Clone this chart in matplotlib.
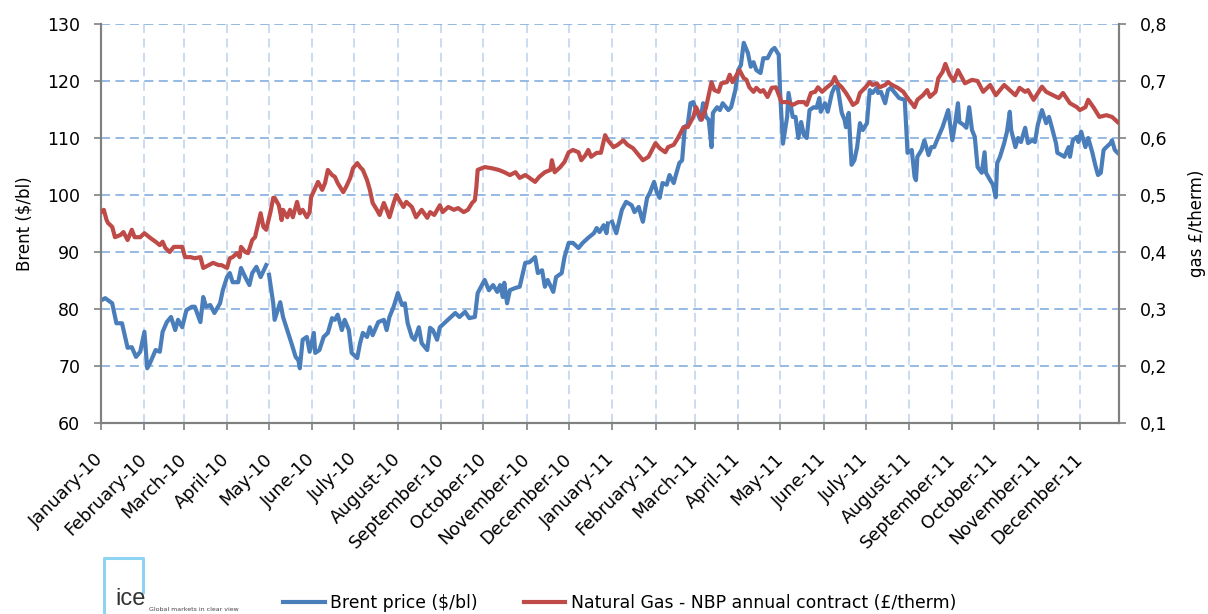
import numpy as np
import pandas as pd
import matplotlib
matplotlib.use("Agg")
import matplotlib.pyplot as plt
import matplotlib.dates as mdates
from matplotlib.lines import Line2D

plt.rcParams['font.family'] = ['DejaVu Sans']

nan = float('nan')

# Brent price ($/bl): days since 2010-01-01 and values
brent_day = [0, 3, 8, 11, 15, 19, 22, 25, 28, 31, 33, 35, 39, 42, 44, 47, 50, 53, 55, 58,
             61, 65, 67, 71, 73, 75, 78, 81, 85, 87, 90, 92, 94, 98, 100, 103, 106, 108, 111, 114,
             118, 119, 120, 123, 124, 128, 130, 133, 136, 139, 141, 142, 144, 147, 149, 152, 153, 156, 159, 162,
             165, 167, 169, 172, 174, 177, 179, 183, 185, 187, 190, 192, 194, 198, 202, 204, 206, 209, 212, 215,
             217, 219, 222, 224, 227, 229, 233, 235, 237, 240, 242, 246, 253, 256, 260, 263, 267, 269, 274, 277,
             280, 283, 285, 287, 288, 290, 292, 296, 299, 303, 306, 310, 312, 315, 317, 319, 323, 325, 329, 331,
             334, 337, 341, 344, 348, 352, 354, 356, 359, 361, 362, 363, 365, 368, 372, 375, 379, 381, 384, 386,
             387, 390, 392, 395, 397, 399, 401, 404, 406, 409, 411, 413, 415, 417, 419, 421, 423, 425, 428, 430,
             432, 434, 436, 437, 440, 442, 444, 448, 450, 453, 455, 457, 459, 462, 464, 466, 468, 471, 473, 476,
             479, 481, 484, 485, 487, 490, 491, 494, 496, 498, 500, 502, 504, 506, 509, 511, 513, 514, 517, 519,
             522, 524, 526, 529, 531, 532, 534, 536, 538, 540, 542, 544, 547, 549, 551, 554, 555, 557, 560, 562,
             564, 567, 570, 574, 576, 579, 581, 582, 583, 586, 588, 591, 593, 595, 598, 601, 605, 608, 610, 612,
             613, 616, 618, 620, 622, 624, 626, 629, 631, 632, 635, 637, 639, 640, 642, 645, 647, 649, 650, 653,
             655, 657, 660, 662, 665, 667, 669, 672, 675, 677, 679, 682, 683, 686, 688, 691, 692, 694, 697, 698,
             700, 703, 705, 708, 710, 712, 714, 716, 718, 721, 722, 724, 726]
brent_price = [81.5, 81.9, 81.0, 77.5, 77.5, 73.2, 73.3, 71.6, 72.5, 76.0, 69.6, 70.5, 72.8, 72.5, 76.0, 77.7, 78.6, 76.3, 78.1, 76.8,
               79.8, 80.4, 80.4, 77.7, 82.1, 80.4, 80.7, 79.3, 81.0, 83.3, 85.6, 86.3, 84.7, 84.7, 87.2, 85.6, 84.2, 86.3, 87.4, 85.6,
               87.7, nan, 86.0, 81.0, 78.1, 81.2, 78.6, 76.3, 74.0, 71.6, 71.0, 69.6, 74.6, 75.1, 72.5, 75.8, 72.3, 72.8, 75.1, 75.8,
               78.4, 78.1, 79.0, 76.3, 78.1, 76.3, 72.3, 71.4, 74.0, 75.8, 75.1, 76.8, 75.4, 77.7, 78.1, 76.3, 78.6, 80.4, 82.8, 80.7,
               81.0, 77.5, 75.1, 74.6, 76.8, 74.0, 72.8, 76.7, 76.3, 74.6, 76.8, 77.7, 79.3, 78.6, 79.5, 78.4, 78.6, 82.8, 85.1, 83.3,
               84.2, 83.0, 84.2, 82.1, 84.6, 81.0, 83.3, 83.7, 83.9, 88.1, 88.2, 89.1, 86.3, 86.8, 83.9, 85.1, 83.0, 85.6, 86.3, 89.1,
               91.6, 91.6, 90.7, 91.6, 92.5, 93.3, 94.2, 93.5, 94.7, 93.3, 95.0, nan, 95.3, 93.3, 97.4, 98.8, 98.2, 97.0, 97.9, 96.1,
               95.3, 99.5, 100.4, 102.3, 100.4, 99.5, 102.1, 101.8, 103.5, 102.1, 103.9, 105.6, 106.1, 112.0, 112.3, 116.1, 116.3, 114.9, 113.2, 116.1,
               113.7, 113.2, 108.4, 114.4, 115.4, 114.9, 116.1, 114.9, 115.4, 118.4, 121.9, 122.8, 126.7, 124.9, 122.5, 123.3, 121.9, 121.4, 124.0, 124.0,
               125.4, 125.8, 124.6, 118.0, 109.0, 113.7, 117.9, 113.7, 113.7, 110.0, 112.8, 110.5, 110.0, 114.9, 115.4, 115.3, 117.0, 114.6, 116.1, 114.6,
               117.9, 119.0, 119.0, 114.4, 113.2, 111.9, 114.4, 105.3, 106.1, 108.4, 112.6, 111.4, 112.6, 118.4, 117.9, 118.8, 117.9, 118.1, 116.1, 118.4,
               118.8, 117.9, 117.0, 116.7, 107.4, 107.9, 103.2, 102.6, 106.7, 107.9, 109.6, 107.0, 108.4, 108.4, 110.2, 111.9, 114.9, 109.6, 112.6, 116.1,
               112.8, 112.3, 111.8, 115.4, 111.4, 110.2, 104.9, 103.9, 107.5, 103.9, 102.6, 101.8, 99.6, 105.6, 106.7, 109.1, 111.1, 114.6, 111.4, 108.4,
               110.0, 109.3, 111.8, 109.1, 109.6, 109.3, 112.3, 114.9, 112.6, 113.7, 111.9, 109.1, 107.4, 107.0, 106.7, 108.4, 106.7, 109.6, 110.2, 109.3,
               111.1, 108.4, 110.0, 107.4, 105.3, 103.5, 103.9, 107.9, 108.4, 109.1, 109.6, 107.9, 107.4]

# Natural Gas - NBP annual contract (£/therm)
gas_day = [0, 2, 4, 5, 8, 10, 14, 16, 19, 22, 24, 28, 31, 35, 39, 42, 44, 46, 49, 52,
           54, 58, 60, 64, 67, 71, 73, 77, 80, 84, 86, 90, 92, 94, 97, 99, 100, 103, 105, 108,
           110, 112, 114, 116, 118, 121, 123, 124, 127, 129, 130, 133, 135, 137, 140, 142, 144, 147, 149, 150,
           153, 155, 158, 160, 162, 165, 167, 169, 173, 175, 178, 180, 183, 185, 187, 190, 192, 194, 197, 199,
           202, 204, 206, 209, 211, 213, 216, 218, 222, 225, 229, 233, 235, 238, 242, 244, 248, 252, 255, 259,
           262, 265, 267, 268, 269, 272, 274, 279, 284, 288, 292, 296, 299, 303, 306, 310, 313, 317, 321, 322,
           324, 328, 331, 334, 337, 341, 343, 346, 348, 350, 354, 357, 360, 362, 366, 369, 373, 376, 380, 384,
           387, 391, 396, 399, 403, 405, 409, 412, 416, 419, 423, 425, 429, 432, 436, 438, 441, 443, 447, 449,
           451, 454, 456, 459, 461, 463, 466, 468, 471, 473, 476, 479, 482, 486, 491, 494, 498, 502, 504, 507,
           510, 512, 515, 518, 522, 524, 526, 529, 532, 535, 537, 540, 542, 546, 549, 551, 554, 556, 560, 562,
           565, 569, 573, 576, 579, 581, 583, 587, 590, 592, 596, 598, 601, 603, 606, 609, 612, 617, 622, 626,
           630, 635, 639, 645, 649, 653, 656, 660, 662, 666, 672, 675, 680, 684, 687, 692, 697, 699, 703, 705,
           709, 713, 718, 722, 726]
gas_price = [0.470, 0.474, 0.456, 0.451, 0.444, 0.426, 0.430, 0.435, 0.421, 0.439, 0.426, 0.426, 0.433, 0.425, 0.418, 0.412, 0.418, 0.407, 0.400, 0.409,
             0.409, 0.409, 0.391, 0.391, 0.389, 0.391, 0.372, 0.377, 0.381, 0.377, 0.377, 0.372, 0.389, 0.391, 0.398, 0.391, 0.409, 0.400, 0.398, 0.421,
             0.426, 0.447, 0.468, 0.444, 0.439, 0.470, 0.495, 0.495, 0.482, 0.456, 0.474, 0.461, 0.474, 0.461, 0.488, 0.468, 0.474, 0.461, 0.470, 0.496,
             0.512, 0.523, 0.509, 0.521, 0.544, 0.535, 0.532, 0.521, 0.505, 0.514, 0.530, 0.547, 0.556, 0.549, 0.544, 0.526, 0.509, 0.486, 0.474, 0.465,
             0.486, 0.474, 0.461, 0.486, 0.500, 0.491, 0.479, 0.488, 0.479, 0.461, 0.474, 0.460, 0.470, 0.465, 0.482, 0.470, 0.479, 0.474, 0.477, 0.470,
             0.474, 0.486, 0.491, 0.512, 0.544, 0.547, 0.549, 0.547, 0.544, 0.540, 0.535, 0.540, 0.530, 0.535, 0.530, 0.523, 0.532, 0.540, 0.544, 0.561,
             0.540, 0.549, 0.558, 0.575, 0.579, 0.575, 0.561, 0.570, 0.579, 0.567, 0.574, 0.574, 0.605, 0.596, 0.584, 0.588, 0.596, 0.588, 0.582, 0.570,
             0.561, 0.567, 0.591, 0.582, 0.575, 0.584, 0.588, 0.600, 0.619, 0.619, 0.637, 0.654, 0.632, 0.653, 0.698, 0.684, 0.681, 0.696, 0.698, 0.711,
             0.698, 0.711, 0.719, 0.705, 0.702, 0.689, 0.681, 0.688, 0.681, 0.684, 0.672, 0.688, 0.689, 0.663, 0.663, 0.658, 0.663, 0.663, 0.658, 0.679,
             0.681, 0.689, 0.681, 0.688, 0.696, 0.707, 0.696, 0.689, 0.679, 0.667, 0.658, 0.663, 0.679, 0.689, 0.698, 0.693, 0.696, 0.689, 0.693, 0.698,
             0.693, 0.688, 0.681, 0.670, 0.661, 0.654, 0.667, 0.675, 0.684, 0.672, 0.681, 0.705, 0.716, 0.730, 0.711, 0.700, 0.719, 0.696, 0.702, 0.700,
             0.681, 0.693, 0.675, 0.693, 0.684, 0.675, 0.688, 0.681, 0.684, 0.667, 0.690, 0.681, 0.675, 0.670, 0.679, 0.661, 0.654, 0.649, 0.654, 0.667,
             0.653, 0.637, 0.640, 0.637, 0.628]

brent_label = 'Brent price ($/bl)'
gas_label = 'Natural Gas - NBP annual contract (£/therm)'

base = pd.Timestamp('2010-01-01')
brent_dates = base + pd.to_timedelta(brent_day, unit='D')
gas_dates = base + pd.to_timedelta(gas_day, unit='D')

BLUE = '#4A7EBB'
RED = '#BE4B48'
GRID_H = '#8DB4E2'
GRID_V = '#C6D9F1'
SPINE = '#808080'
FS = 12

fig = plt.figure(figsize=(12.08, 6.14), dpi=100)
ax = fig.add_axes([101/1208, 1-423/614, (1119-101)/1208, (423-24)/614])
ax2 = ax.twinx()

ax.plot(brent_dates, brent_price, color=BLUE, lw=3.0, solid_joinstyle='round', label=brent_label, zorder=3)
ax2.plot(gas_dates, gas_price, color=RED, lw=3.0, solid_joinstyle='round', label=gas_label, zorder=3)

ax.set_xlim(base, base + pd.Timedelta(days=727))
ax.set_ylim(60, 130)
ax.set_yticks(np.arange(60, 131, 10))
ax2.set_ylim(0.1, 0.8)
ax2.set_yticks(np.arange(0.1, 0.81, 0.1))
ax2.set_yticklabels([f'{v:.1f}'.replace('.', ',') for v in np.arange(0.1, 0.81, 0.1)])

ax.xaxis.set_major_locator(mdates.MonthLocator())
ax.xaxis.set_major_formatter(mdates.DateFormatter('%B-%y'))

ax.grid(axis='y', color=GRID_H, lw=1.3, linestyle=(0, (5, 3)), zorder=0)
ax.grid(axis='x', color=GRID_V, lw=1.3, linestyle=(0, (5, 3)), zorder=0)

for a in (ax, ax2):
    a.spines['top'].set_visible(False)
    for s in ('left', 'right', 'bottom'):
        a.spines[s].set_color(SPINE)
        a.spines[s].set_linewidth(1.5)
ax.tick_params(axis='y', direction='out', length=5, width=1.2, color=SPINE, labelsize=12.5, pad=10)
ax2.tick_params(axis='y', direction='out', length=5, width=1.2, color=SPINE, labelsize=12.5, pad=10)
ax.tick_params(axis='x', direction='out', length=5, width=1.2, color=SPINE, labelsize=12.8, pad=19)
for lab in ax.get_xticklabels():
    lab.set_rotation(45)
    lab.set_ha('right')
    lab.set_va('center')
    lab.set_rotation_mode('anchor')

ax.set_ylabel('Brent ($/bl)', fontsize=FS)
ax.yaxis.set_label_coords(-0.066, 0.5)
ax2.set_ylabel('gas £/therm)', fontsize=FS)
ax2.yaxis.set_label_coords(1.068, 0.5)

handles = [ax.get_lines()[0], ax2.get_lines()[0]]
fig.legend(handles, [brent_label, gas_label], loc='center', bbox_to_anchor=(0.513, 0.018),
           ncol=2, frameon=False, fontsize=12.4, handlelength=2.4, handletextpad=0.3,
           columnspacing=2.7)

# ICE logo (decorative)
logo_c = '#8ED3F2'
fig.add_artist(Line2D([104/1208, 104/1208, 143/1208, 143/1208],
                      [0, 1-558/614, 1-558/614, 1-592/614], color=logo_c, lw=2.2))
fig.text(115/1208, 0.006, 'ice', fontsize=17, color='#333333', va='bottom', ha='left',
         family='Liberation Sans')
fig.text(149/1208, 0.004, 'Global markets in clear view', fontsize=4.5, color='#444444',
         va='bottom', ha='left')

fig.savefig('out.png', dpi=100)
